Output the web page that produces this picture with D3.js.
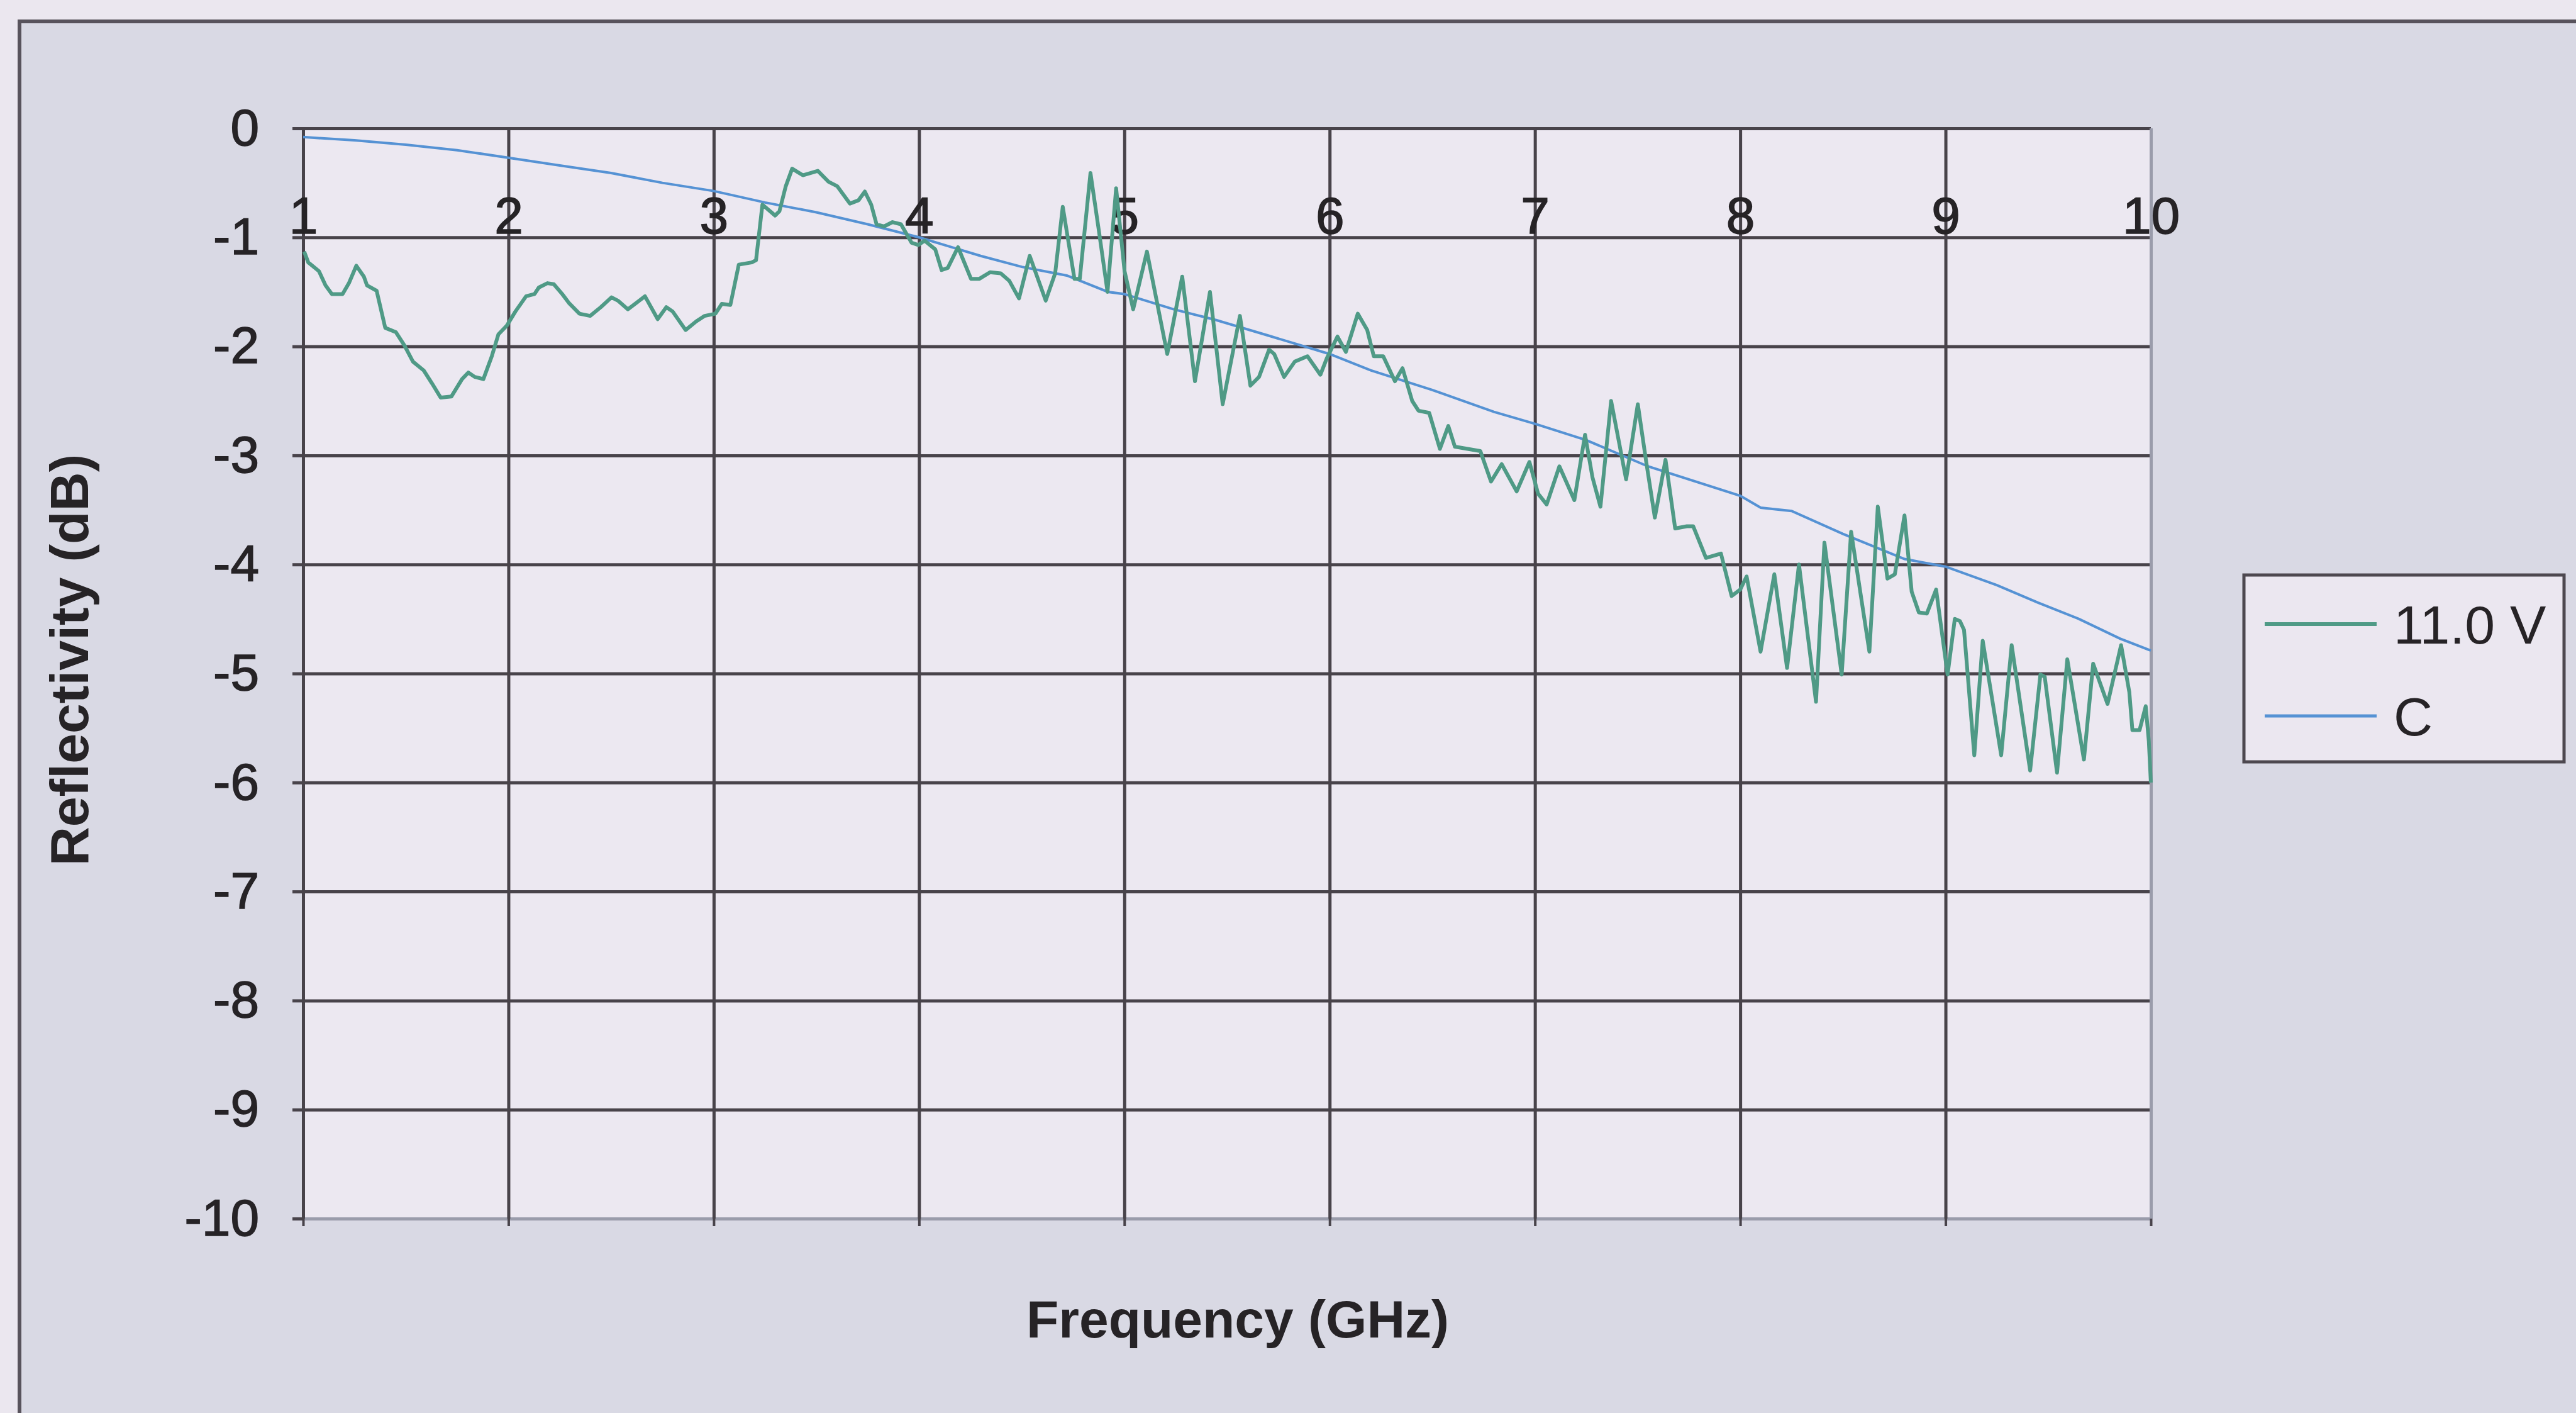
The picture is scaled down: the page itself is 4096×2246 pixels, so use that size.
<!DOCTYPE html>
<html>
<head>
<meta charset="utf-8">
<script src="https://cdn.jsdelivr.net/npm/d3@7"></script>
<style>
  body { margin: 0; background: #ebe7ef; }
  svg { display: block; }
  text { font-family: "Liberation Sans", Arial, sans-serif; fill: #262326; }
</style>
</head>
<body>
<div id="chart"></div>
<script>
// values: frequency (GHz) and reflectivity (dB)
var freq11V = [1.005, 1.025, 1.077, 1.109, 1.140, 1.192, 1.223, 1.259, 1.296, 1.311, 1.358, 1.400, 1.452, 1.493, 1.535,
  1.587, 1.628, 1.670, 1.722, 1.774, 1.805, 1.836, 1.878, 1.919, 1.951, 1.992, 2.034, 2.086, 2.127, 2.148,
  2.190, 2.221, 2.262, 2.294, 2.346, 2.398, 2.450, 2.502, 2.533, 2.582, 2.665, 2.727, 2.769, 2.800, 2.863,
  2.915, 2.956, 3.008, 3.039, 3.081, 3.122, 3.185, 3.206, 3.237, 3.299, 3.320, 3.351, 3.382, 3.434, 3.507,
  3.559, 3.601, 3.663, 3.705, 3.736, 3.767, 3.793, 3.829, 3.871, 3.912, 3.964, 3.996, 4.027, 4.079, 4.110,
  4.140, 4.190, 4.253, 4.294, 4.346, 4.398, 4.440, 4.487, 4.539, 4.617, 4.663, 4.700, 4.757, 4.783, 4.835,
  4.876, 4.918, 4.960, 5.001, 5.043, 5.110, 5.209, 5.282, 5.344, 5.417, 5.479, 5.563, 5.614, 5.656, 5.705,
  5.730, 5.778, 5.830, 5.892, 5.955, 5.986, 6.038, 6.079, 6.137, 6.183, 6.215, 6.261, 6.318, 6.355, 6.402,
  6.433, 6.485, 6.537, 6.578, 6.610, 6.734, 6.786, 6.838, 6.911, 6.973, 7.015, 7.057, 7.119, 7.192, 7.244,
  7.280, 7.319, 7.371, 7.444, 7.501, 7.542, 7.584, 7.636, 7.683, 7.740, 7.771, 7.833, 7.906, 7.958, 8.000,
  8.031, 8.099, 8.166, 8.228, 8.286, 8.369, 8.410, 8.494, 8.540, 8.629, 8.670, 8.717, 8.753, 8.800, 8.835,
  8.870, 8.909, 8.954, 8.979, 9.010, 9.045, 9.070, 9.090, 9.140, 9.181, 9.271, 9.322, 9.412, 9.462, 9.483,
  9.543, 9.593, 9.674, 9.719, 9.789, 9.855, 9.895, 9.910, 9.945, 9.975, 9.990, 10.0];
var refl11V = [-1.13, -1.23, -1.31, -1.44, -1.52, -1.52, -1.42, -1.26, -1.36, -1.44, -1.49, -1.83, -1.87, -1.99, -2.14,
  -2.22, -2.34, -2.47, -2.46, -2.30, -2.24, -2.28, -2.30, -2.09, -1.89, -1.81, -1.68, -1.54, -1.52, -1.46,
  -1.42, -1.43, -1.52, -1.60, -1.70, -1.72, -1.64, -1.55, -1.58, -1.66, -1.54, -1.75, -1.64, -1.68, -1.85,
  -1.77, -1.72, -1.70, -1.61, -1.62, -1.25, -1.23, -1.21, -0.70, -0.80, -0.76, -0.53, -0.37, -0.43, -0.39,
  -0.49, -0.53, -0.69, -0.66, -0.58, -0.70, -0.88, -0.90, -0.86, -0.88, -1.05, -1.07, -1.03, -1.11, -1.30,
  -1.28, -1.09, -1.38, -1.38, -1.32, -1.33, -1.40, -1.56, -1.17, -1.58, -1.33, -0.72, -1.38, -1.38, -0.41,
  -0.94, -1.50, -0.55, -1.31, -1.66, -1.13, -2.07, -1.36, -2.32, -1.50, -2.53, -1.72, -2.36, -2.28, -2.03,
  -2.07, -2.28, -2.14, -2.09, -2.26, -2.11, -1.91, -2.05, -1.70, -1.85, -2.09, -2.09, -2.32, -2.20, -2.50,
  -2.59, -2.61, -2.94, -2.73, -2.92, -2.96, -3.24, -3.08, -3.33, -3.06, -3.35, -3.45, -3.10, -3.41, -2.81,
  -3.20, -3.47, -2.50, -3.22, -2.53, -3.06, -3.57, -3.04, -3.67, -3.65, -3.65, -3.94, -3.90, -4.29, -4.23,
  -4.11, -4.80, -4.09, -4.95, -4.00, -5.26, -3.80, -5.01, -3.70, -4.80, -3.47, -4.13, -4.09, -3.55, -4.25,
  -4.44, -4.45, -4.23, -4.58, -5.01, -4.50, -4.52, -4.60, -5.75, -4.70, -5.75, -4.74, -5.89, -5.01, -5.03,
  -5.91, -4.87, -5.79, -4.91, -5.28, -4.74, -5.17, -5.52, -5.52, -5.30, -5.62, -6.00];

var freqC = [1.0, 1.25, 1.5, 1.75, 2.0, 2.25, 2.5, 2.75, 3.0, 3.25, 3.5, 3.75, 4.0, 4.3, 4.5, 4.72, 4.92, 5.0, 5.24,
  5.45, 5.7, 6.0, 6.2, 6.5, 6.8, 7.0, 7.25, 7.55, 8.0, 8.1, 8.25, 8.5, 8.8, 9.0, 9.25, 9.45, 9.65, 9.85, 10.0];
var reflC = [-0.08, -0.11, -0.15, -0.20, -0.27, -0.34, -0.41, -0.50, -0.575, -0.68, -0.77, -0.88, -1.0, -1.17, -1.27,
  -1.35, -1.50, -1.52, -1.66, -1.76, -1.90, -2.07, -2.22, -2.40, -2.60, -2.71, -2.86, -3.10, -3.37, -3.48, -3.51,
  -3.72, -3.95, -4.02, -4.19, -4.35, -4.50, -4.68, -4.79];

var xTicks = [1, 2, 3, 4, 5, 6, 7, 8, 9, 10];
var yTicks = [0, -1, -2, -3, -4, -5, -6, -7, -8, -9, -10];
var seriesNames = ["11.0 V", "C"];
var seriesColors = ["#4f9a86", "#5592d4"];

var W = 4096, H = 2246;
var plot = {left: 482, right: 3420, top: 204, bottom: 1937};
var gridColor = "#48434a", edgeColor = "#9a9cab", inkColor = "#262326";

var svg = d3.select("#chart").append("svg")
    .attr("width", W)
    .attr("height", H);

// chart frame (only top and left edges show in the scan)
svg.append("rect")
    .attr("x", 31).attr("y", 34)
    .attr("width", W).attr("height", H)
    .attr("fill", "#d9d9e4")
    .attr("stroke", "#58535c")
    .attr("stroke-width", 6);

var x = d3.scaleLinear().domain([1, 10]).range([plot.left, plot.right]);
var y = d3.scaleLinear().domain([-10, 0]).range([plot.bottom, plot.top]);
var plotW = plot.right - plot.left, plotH = plot.bottom - plot.top;

svg.append("rect")
    .attr("x", plot.left).attr("y", plot.top)
    .attr("width", plotW).attr("height", plotH)
    .attr("fill", "#ece8f1");

function styleLines(g, w) {
    g.select(".domain").remove();
    g.selectAll(".tick line")
        .attr("stroke", function(d) { return (d == 10 || d == -10) ? edgeColor : gridColor; })
        .attr("stroke-width", w);
}

function styleLabels(g) {
    g.selectAll("text")
        .attr("font-size", 82)
        .attr("font-family", null)
        .attr("fill", inkColor)
        .attr("stroke", inkColor)
        .attr("stroke-width", 1.5);
}

// plain hyphen for negatives, as in the scan
var plainFmt = function(d) { return String(d); };

// horizontal grid lines
svg.append("g")
    .attr("transform", "translate(" + plot.left + ",0)")
    .call(d3.axisLeft(y).tickValues(yTicks).tickSize(-plotW).tickFormat(""))
    .call(styleLines, 5);

// vertical grid lines
svg.append("g")
    .attr("transform", "translate(0," + plot.bottom + ")")
    .call(d3.axisBottom(x).tickValues(xTicks).tickSize(-plotH).tickFormat(""))
    .call(styleLines, 5);

// y axis stubs + labels
var yAxis = svg.append("g")
    .attr("transform", "translate(" + plot.left + ",0)")
    .call(d3.axisLeft(y).tickValues(yTicks).tickSize(17).tickPadding(53).tickFormat(plainFmt));
yAxis.select(".domain").remove();
yAxis.selectAll(".tick line").attr("stroke", gridColor).attr("stroke-width", 5);
yAxis.call(styleLabels);

// x stubs below the plot
var xStub = svg.append("g")
    .attr("transform", "translate(0," + plot.bottom + ")")
    .call(d3.axisBottom(x).tickValues(xTicks).tickSize(12).tickFormat(""));
xStub.select(".domain").remove();
xStub.selectAll(".tick line").attr("stroke", gridColor).attr("stroke-width", 4);

// x labels sit just above the -1 dB line
var xLab = svg.append("g")
    .attr("transform", "translate(0," + y(-1) + ")")
    .call(d3.axisTop(x).tickValues(xTicks).tickSize(0).tickPadding(6).tickFormat(plainFmt));
xLab.select(".domain").remove();
xLab.call(styleLabels);

// series
var line = d3.line()
    .x(function(d) { return x(d[0]); })
    .y(function(d) { return y(d[1]); });

var dataC = d3.zip(freqC, reflC);
var data11V = d3.zip(freq11V, refl11V);

svg.append("path")
    .datum(dataC)
    .attr("d", line)
    .attr("fill", "none")
    .attr("stroke", seriesColors[1])
    .attr("stroke-width", 4);

svg.append("path")
    .datum(data11V)
    .attr("d", line)
    .attr("fill", "none")
    .attr("stroke", seriesColors[0])
    .attr("stroke-width", 6)
    .attr("stroke-linejoin", "round");

// axis titles
svg.append("text")
    .attr("x", 1968).attr("y", 2126)
    .attr("text-anchor", "middle")
    .attr("font-size", 84)
    .attr("font-weight", "bold")
    .text("Frequency (GHz)");

svg.append("text")
    .attr("transform", "translate(140,1049) rotate(-90)")
    .attr("text-anchor", "middle")
    .attr("font-size", 86)
    .attr("font-weight", "bold")
    .text("Reflectivity (dB)");

// legend
var legend = svg.append("g").attr("transform", "translate(3568,914)");
legend.append("rect")
    .attr("width", 509).attr("height", 297)
    .attr("fill", "#ebe7f0")
    .attr("stroke", "#4d484f")
    .attr("stroke-width", 5);

var rowY = [78, 224];
seriesNames.forEach(function(name, i) {
    legend.append("line")
        .attr("x1", 33).attr("x2", 211)
        .attr("y1", rowY[i]).attr("y2", rowY[i])
        .attr("stroke", seriesColors[i])
        .attr("stroke-width", i == 0 ? 6 : 5);
    legend.append("text")
        .attr("x", 238).attr("y", rowY[i])
        .attr("dy", "0.36em")
        .attr("font-size", 86)
        .text(name);
});
</script>
</body>
</html>
